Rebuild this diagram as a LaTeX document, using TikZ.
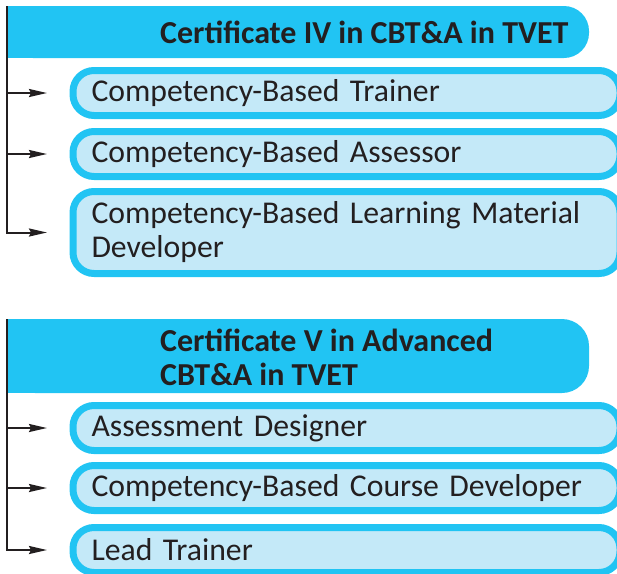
\documentclass[tikz,border=0pt]{standalone}
\usepackage{fontspec}
\setmainfont{Carlito}
\usetikzlibrary{arrows.meta}
\definecolor{hdrc}{HTML}{21C4F3}
\definecolor{boxc}{HTML}{C4E9F8}
\definecolor{txtc}{HTML}{231F20}
\begin{document}
\begin{tikzpicture}[x=1pt,y=-1pt,
 item/.style={draw=hdrc, line width=7pt, fill=boxc, rounded corners=21pt, minimum height=45pt, text width=510pt, inner xsep=18.5pt, inner ysep=0pt, align=left, font=\fontsize{31.7}{34}\selectfont, text=txtc, anchor=west},
 htext/.style={font=\fontsize{32}{34}\selectfont\bfseries, text=txtc, align=left, anchor=west, inner sep=0pt},
 hdr/.style={fill=hdrc},
 conn/.style={line width=2pt, draw=txtc, -{Stealth[length=18pt,width=8pt,inset=2pt]}}]
\useasboundingbox (0,0) rectangle (617,573);
\clip (0,0) rectangle (617,573);
% section 1
\fill[hdr, rounded corners=25pt] (8,6) rectangle (589,58);
\fill[hdr] (8,6) rectangle (300,58);
\node[htext] (h1) at (160,32) {Certificate IV in CBT\&A in TVET};
\node[item] (i1) at (69.5,93) {Competency-Based Trainer};
\node[item] (i2) at (69.5,154) {Competency-Based Assessor};
\node[item, minimum height=82pt] (i3) at (69.5,232.5) {Competency-Based Learning Material\\Developer};
\coordinate (r1) at (7,6);
\draw[conn] (r1) |- ([xshift=-22.5pt]i3.west);
\draw[conn] (r1 |- i1.west) -- ([xshift=-22.5pt]i1.west);
\draw[conn] (r1 |- i2.west) -- ([xshift=-22.5pt]i2.west);
% section 2
\fill[hdr, rounded corners=27pt] (8,319) rectangle (589,393);
\fill[hdr] (8,319) rectangle (300,393);
\node[htext] (h2) at (160,357) {Certificate V in Advanced\\CBT\&A in TVET};
\node[item] (i4) at (69.5,428) {Assessment Designer};
\node[item] (i5) at (69.5,488) {Competency-Based Course Developer};
\node[item] (i6) at (69.5,550) {Lead Trainer};
\coordinate (r2) at (7,319);
\draw[conn] (r2) |- ([xshift=-22.5pt]i6.west);
\draw[conn] (r2 |- i4.west) -- ([xshift=-22.5pt]i4.west);
\draw[conn] (r2 |- i5.west) -- ([xshift=-22.5pt]i5.west);
\end{tikzpicture}
\end{document}
